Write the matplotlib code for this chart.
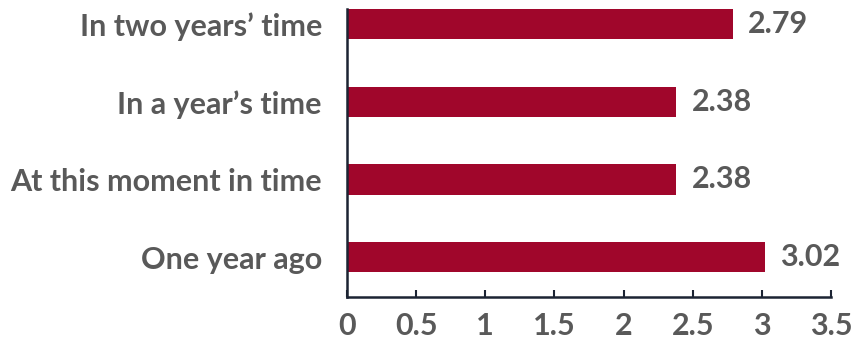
import matplotlib
matplotlib.use("Agg")
import matplotlib.pyplot as plt

categories = ["One year ago", "At this moment in time", "In a year\u2019s time", "In two years\u2019 time"]
values = [3.02, 2.38, 2.38, 2.79]
value_labels = ["3.02", "2.38", "2.38", "2.79"]
xticks = [0, 0.5, 1, 1.5, 2, 2.5, 3, 3.5]
xtick_labels = ["0", "0.5", "1", "1.5", "2", "2.5", "3", "3.5"]

bar_color = "#A0062B"
text_color = "#595959"
axis_color = "#1C2433"

plt.rcParams["font.family"] = ["Lato", "DejaVu Sans"]

fig = plt.figure(figsize=(8.53, 3.43), dpi=100)
ax = fig.add_axes([347 / 853, 46 / 343, 484 / 853, 288 / 343])

ypos = list(range(len(categories)))
ax.barh(ypos, values, height=0.39, color=bar_color, zorder=2)

for y, v, lab in zip(ypos, values, value_labels):
    ax.annotate(lab, (v, y), xytext=(11, 0), textcoords="offset points",
                ha="left", va="center", fontsize=22, fontweight="bold",
                color=text_color)

ax.set_xlim(0, 3.5)
ax.set_ylim(-0.515, 3.195)
ax.set_yticks(ypos)
ax.set_yticklabels(categories, fontsize=22, fontweight="bold", color=text_color)
ax.set_xticks(xticks)
ax.set_xticklabels(xtick_labels, fontsize=22, fontweight="bold", color=text_color)

ax.tick_params(axis="y", length=0, pad=18)
ax.tick_params(axis="x", direction="in", length=5, width=1.5, color=axis_color, pad=11)

for side in ("top", "right"):
    ax.spines[side].set_visible(False)
for side in ("left", "bottom"):
    ax.spines[side].set_color(axis_color)
    ax.spines[side].set_linewidth(1.8)

fig.savefig("out.png", dpi=100)
